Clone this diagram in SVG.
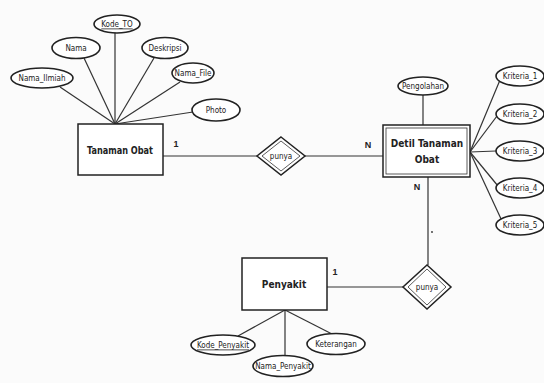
<svg xmlns="http://www.w3.org/2000/svg" width="544" height="383" viewBox="0 0 544 383">
<style>
.ln{stroke:#333;stroke-width:1.2;fill:none}
.el{fill:#fff;stroke:#222;stroke-width:1.6}
.bx{fill:#fff;stroke:#222;stroke-width:1.5}
.at{font-family:"DejaVu Sans Condensed","Liberation Sans",sans-serif;font-size:8px;fill:#222;text-anchor:middle;dominant-baseline:central}
.en{font-family:"DejaVu Sans Condensed","Liberation Sans",sans-serif;font-size:10px;font-weight:bold;fill:#222;text-anchor:middle;dominant-baseline:central}
.cd{font-family:"Liberation Sans","DejaVu Sans",sans-serif;font-size:9px;font-weight:bold;fill:#222;text-anchor:middle;dominant-baseline:central}
.u{text-decoration:underline}
</style>
<rect width="544" height="383" fill="#fbfbfb"/>
<g id="connectors">
<line class="ln" x1="115" y1="33" x2="115" y2="124"/>
<line class="ln" x1="84" y1="58" x2="115" y2="124"/>
<line class="ln" x1="60" y1="87" x2="115" y2="124"/>
<line class="ln" x1="154" y1="58" x2="115" y2="124"/>
<line class="ln" x1="180" y1="82" x2="115" y2="124"/>
<line class="ln" x1="193" y1="112" x2="115" y2="124"/>
<line class="ln" x1="163" y1="156" x2="257" y2="156"/>
<line class="ln" x1="305" y1="156" x2="383" y2="156"/>
<line class="ln" x1="423" y1="95" x2="423" y2="125"/>
<line class="ln" x1="470" y1="152" x2="500" y2="80"/>
<line class="ln" x1="470" y1="152" x2="497" y2="116"/>
<line class="ln" x1="470" y1="152" x2="496" y2="151"/>
<line class="ln" x1="470" y1="152" x2="498" y2="186"/>
<line class="ln" x1="470" y1="152" x2="502" y2="221"/>
<line class="ln" x1="428" y1="177" x2="428" y2="265"/>
<line class="ln" x1="327" y1="287" x2="403" y2="287"/>
<line class="ln" x1="285" y1="310" x2="238" y2="336"/>
<line class="ln" x1="285" y1="310" x2="332" y2="334"/>
<line class="ln" x1="285" y1="310" x2="285" y2="355"/>
<circle cx="432" cy="232" r="0.9" fill="#333"/>
<text class="cd" x="176" y="144">1</text>
<text class="cd" x="368" y="145">N</text>
<text class="cd" x="417" y="187">N</text>
<text class="cd" x="335" y="272">1</text>
</g>
<g id="kode_to"><ellipse class="el" cx="117" cy="24" rx="23" ry="9"/><text class="at u" x="117" y="24">Kode_TO</text></g>
<g id="nama"><ellipse class="el" cx="76" cy="48" rx="24" ry="10.5"/><text class="at" x="76" y="48">Nama</text></g>
<g id="nama_ilmiah"><ellipse class="el" cx="42" cy="78" rx="31" ry="10"/><text class="at" x="42" y="78">Nama_Ilmiah</text></g>
<g id="deskripsi"><ellipse class="el" cx="165" cy="48" rx="23" ry="10.5"/><text class="at" x="165" y="48">Deskripsi</text></g>
<g id="nama_file"><ellipse class="el" cx="193" cy="73" rx="21" ry="10"/><text class="at" x="193" y="73">Nama_File</text></g>
<g id="photo"><ellipse class="el" cx="216" cy="110" rx="24" ry="11"/><text class="at" x="216" y="110">Photo</text></g>
<g id="tanaman_obat"><rect class="bx" x="78" y="124" width="85" height="51"/><text class="en" x="120" y="150" textLength="66" lengthAdjust="spacingAndGlyphs">Tanaman Obat</text></g>
<g id="punya1"><polygon class="bx" points="281,137 305,156 281,175 257,156"/><polygon class="ln" points="281,141 300,156 281,171 262,156" style="stroke-width:0.8"/><text class="at" x="281" y="156">punya</text></g>
<g id="detil_tanaman_obat"><rect class="bx" x="383" y="125" width="87" height="52"/><rect class="ln" x="386" y="128" width="81" height="46" style="stroke-width:0.8"/><text class="en" x="427" y="143">Detil Tanaman</text><text class="en" x="427" y="159">Obat</text></g>
<g id="pengolahan"><ellipse class="el" cx="423" cy="86" rx="25" ry="9"/><text class="at" x="423" y="86">Pengolahan</text></g>
<g id="kriteria_1"><ellipse class="el" cx="520" cy="76" rx="24" ry="10"/><text class="at" x="520" y="76">Kriteria_1</text></g>
<g id="kriteria_2"><ellipse class="el" cx="520" cy="114" rx="24" ry="10"/><text class="at" x="520" y="114">Kriteria_2</text></g>
<g id="kriteria_3"><ellipse class="el" cx="520" cy="151" rx="24" ry="10"/><text class="at" x="520" y="151">Kriteria_3</text></g>
<g id="kriteria_4"><ellipse class="el" cx="520" cy="188" rx="24" ry="10"/><text class="at" x="520" y="188">Kriteria_4</text></g>
<g id="kriteria_5"><ellipse class="el" cx="520" cy="225" rx="24" ry="10"/><text class="at" x="520" y="225">Kriteria_5</text></g>
<g id="punya2"><polygon class="bx" points="427,265 451,287 427,309 403,287"/><polygon class="ln" points="427,269 446,287 427,305 408,287" style="stroke-width:0.8"/><text class="at" x="427" y="287">punya</text></g>
<g id="penyakit"><rect class="bx" x="242" y="258" width="85" height="52"/><text class="en" x="284" y="284">Penyakit</text></g>
<g id="kode_penyakit"><ellipse class="el" cx="223" cy="345" rx="32" ry="10"/><text class="at u" x="223" y="345">Kode_Penyakit</text></g>
<g id="keterangan"><ellipse class="el" cx="336" cy="344" rx="29" ry="10.5"/><text class="at" x="336" y="344">Keterangan</text></g>
<g id="nama_penyakit"><ellipse class="el" cx="283" cy="366" rx="30" ry="10.5"/><text class="at" x="283" y="366">Nama_Penyakit</text></g>
</svg>
